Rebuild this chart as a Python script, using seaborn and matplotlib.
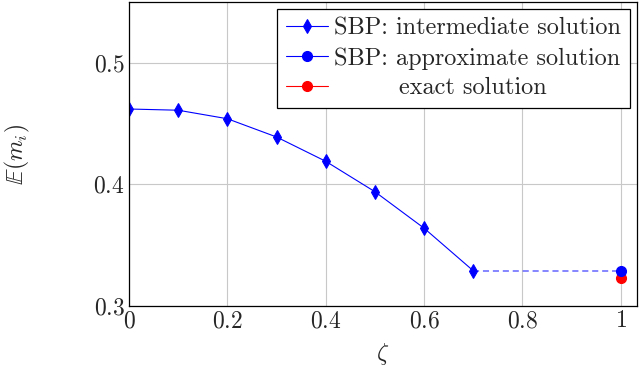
import matplotlib
matplotlib.use("Agg")
import matplotlib.pyplot as plt
import seaborn as sns
import pandas as pd

zeta = [0.0, 0.1, 0.2, 0.3, 0.4, 0.5, 0.6, 0.7]
intermediate = [0.462, 0.461, 0.454, 0.439, 0.419, 0.394, 0.364, 0.329]
approx_x = [1.0]
approx_y = [0.329]
exact_x = [1.0]
exact_y = [0.323]
xticks = [0, 0.2, 0.4, 0.6, 0.8, 1]
xtick_labels = ["0", "0.2", "0.4", "0.6", "0.8", "1"]
yticks = [0.3, 0.4, 0.5]
ytick_labels = ["0.3", "0.4", "0.5"]

sns.set_style("white")
plt.rcParams["font.family"] = ["serif"]
plt.rcParams["font.serif"] = ["cmr10", "DejaVu Serif"]
plt.rcParams["mathtext.fontset"] = "cm"
plt.rcParams["axes.unicode_minus"] = False

fig = plt.figure(figsize=(6.4, 3.77), dpi=100)
ax = fig.add_axes([129/640, 1 - 306/377, (637-129)/640, (306-2)/377])

df = pd.DataFrame({"zeta": zeta, "val": intermediate})
sns.lineplot(data=df, x="zeta", y="val", ax=ax, color="blue", lw=0.8,
             marker="d", markersize=7.5, markeredgecolor="blue",
             label="SBP: intermediate solution")
ax.plot([zeta[-1], approx_x[0]], [intermediate[-1], approx_y[0]],
        color="blue", alpha=0.6, lw=1.1, ls=(0, (4, 2.5)))
ax.plot(approx_x, approx_y, color="blue", lw=0.8, marker="o", markersize=7,
        label="SBP: approximate solution", zorder=5)
ax.plot(exact_x, exact_y, color="red", lw=0.8, marker="o", markersize=7,
        label="        exact solution", zorder=4)

ax.set_xlim(0, 1.033)
ax.set_ylim(0.3, 0.55)
ax.set_xticks(xticks)
ax.set_xticklabels([f"${t}$" for t in xtick_labels])
ax.set_yticks(yticks)
ax.set_yticklabels([f"${t}$" for t in ytick_labels])
ax.tick_params(direction="in", length=4, labelsize=17, color="#555555", pad=3)
ax.grid(True, color="#c8c8c8", lw=0.8)
for s in ax.spines.values():
    s.set_color("black")
    s.set_linewidth(0.9)

ax.set_xlabel(r"$\zeta$", fontsize=17, labelpad=6)
ax.set_ylabel(r"$\mathbb{E}(m_i)$", fontsize=17, labelpad=44)

leg = ax.legend(loc="upper right", fontsize=17.5, frameon=True, fancybox=False,
                edgecolor="black", framealpha=1, handlelength=1.75,
                handletextpad=0.25, borderpad=0.35, labelspacing=0.3,
                borderaxespad=0.3)
leg.get_frame().set_linewidth(0.9)

fig.savefig("out.png", dpi=100)
